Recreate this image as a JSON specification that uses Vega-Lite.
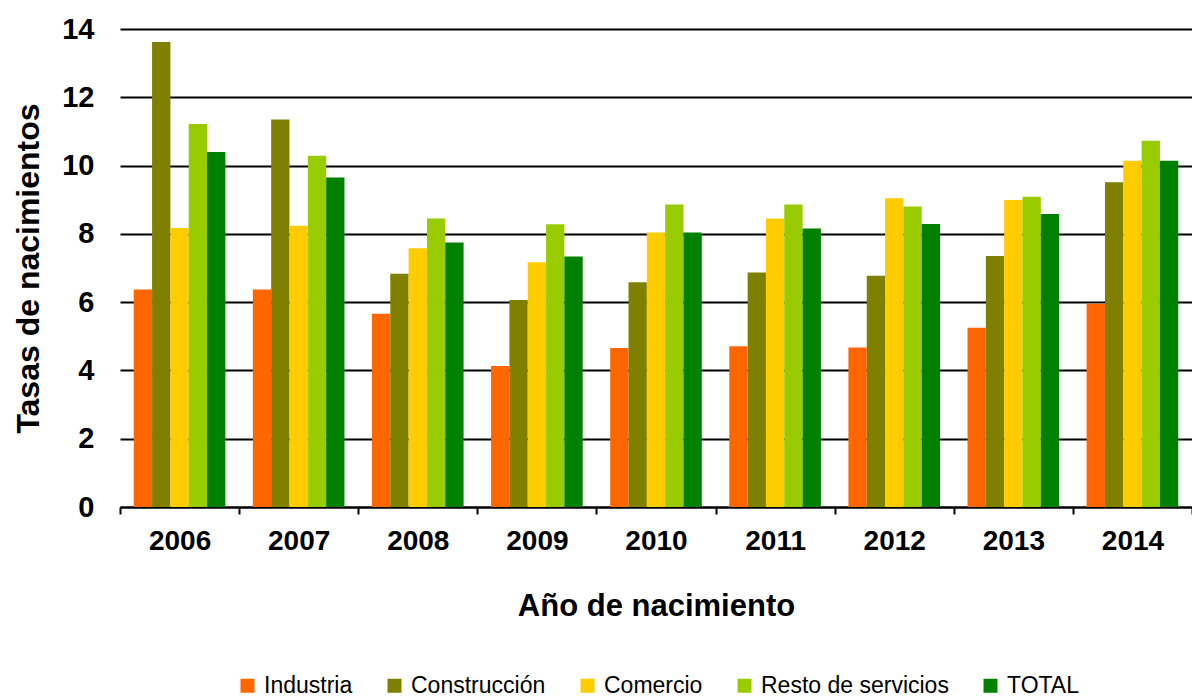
{
  "$schema": "https://vega.github.io/schema/vega-lite/v6.json",
  "width": 1072,
  "height": 478,
  "autosize": {"type": "none"},
  "padding": {"left": 120, "top": 29, "right": 0, "bottom": 191},
  "background": "white",
  "data": {
    "values": [
      {"anio": "2006", "sector": "Industria", "tasa": 6.37},
      {"anio": "2006", "sector": "Construcción", "tasa": 13.62},
      {"anio": "2006", "sector": "Comercio", "tasa": 8.17},
      {"anio": "2006", "sector": "Resto de servicios", "tasa": 11.22},
      {"anio": "2006", "sector": "TOTAL", "tasa": 10.4},
      {"anio": "2007", "sector": "Industria", "tasa": 6.37},
      {"anio": "2007", "sector": "Construcción", "tasa": 11.35},
      {"anio": "2007", "sector": "Comercio", "tasa": 8.24},
      {"anio": "2007", "sector": "Resto de servicios", "tasa": 10.29},
      {"anio": "2007", "sector": "TOTAL", "tasa": 9.65},
      {"anio": "2008", "sector": "Industria", "tasa": 5.66},
      {"anio": "2008", "sector": "Construcción", "tasa": 6.83},
      {"anio": "2008", "sector": "Comercio", "tasa": 7.58},
      {"anio": "2008", "sector": "Resto de servicios", "tasa": 8.45},
      {"anio": "2008", "sector": "TOTAL", "tasa": 7.75},
      {"anio": "2009", "sector": "Industria", "tasa": 4.13},
      {"anio": "2009", "sector": "Construcción", "tasa": 6.06},
      {"anio": "2009", "sector": "Comercio", "tasa": 7.17},
      {"anio": "2009", "sector": "Resto de servicios", "tasa": 8.28},
      {"anio": "2009", "sector": "TOTAL", "tasa": 7.34},
      {"anio": "2010", "sector": "Industria", "tasa": 4.66},
      {"anio": "2010", "sector": "Construcción", "tasa": 6.58},
      {"anio": "2010", "sector": "Comercio", "tasa": 8.04},
      {"anio": "2010", "sector": "Resto de servicios", "tasa": 8.86},
      {"anio": "2010", "sector": "TOTAL", "tasa": 8.04},
      {"anio": "2011", "sector": "Industria", "tasa": 4.71},
      {"anio": "2011", "sector": "Construcción", "tasa": 6.87},
      {"anio": "2011", "sector": "Comercio", "tasa": 8.45},
      {"anio": "2011", "sector": "Resto de servicios", "tasa": 8.86},
      {"anio": "2011", "sector": "TOTAL", "tasa": 8.16},
      {"anio": "2012", "sector": "Industria", "tasa": 4.67},
      {"anio": "2012", "sector": "Construcción", "tasa": 6.77},
      {"anio": "2012", "sector": "Comercio", "tasa": 9.04},
      {"anio": "2012", "sector": "Resto de servicios", "tasa": 8.8},
      {"anio": "2012", "sector": "TOTAL", "tasa": 8.29},
      {"anio": "2013", "sector": "Industria", "tasa": 5.25},
      {"anio": "2013", "sector": "Construcción", "tasa": 7.35},
      {"anio": "2013", "sector": "Comercio", "tasa": 8.99},
      {"anio": "2013", "sector": "Resto de servicios", "tasa": 9.09},
      {"anio": "2013", "sector": "TOTAL", "tasa": 8.58},
      {"anio": "2014", "sector": "Industria", "tasa": 5.95},
      {"anio": "2014", "sector": "Construcción", "tasa": 9.51},
      {"anio": "2014", "sector": "Comercio", "tasa": 10.14},
      {"anio": "2014", "sector": "Resto de servicios", "tasa": 10.73},
      {"anio": "2014", "sector": "TOTAL", "tasa": 10.14}
    ]
  },
  "mark": {"type": "bar"},
  "encoding": {
    "x": {
      "field": "anio",
      "type": "nominal",
      "scale": {"paddingInner": 0, "paddingOuter": 0},
      "axis": {
        "title": "Año de nacimiento",
        "labelAngle": 0,
        "labelFont": "Liberation Sans",
        "labelFontWeight": "bold",
        "labelFontSize": 28,
        "labelColor": "black",
        "labelPadding": 13,
        "domain": true,
        "domainColor": "black",
        "domainWidth": 2,
        "ticks": true,
        "tickBand": "extent",
        "tickColor": "black",
        "tickWidth": 2,
        "tickSize": 7,
        "grid": false,
        "titleFont": "Liberation Sans",
        "titleFontWeight": "bold",
        "titleFontSize": 31,
        "titleColor": "black",
        "titlePadding": 36
      }
    },
    "xOffset": {
      "field": "sector",
      "type": "nominal",
      "sort": ["Industria", "Construcción", "Comercio", "Resto de servicios", "TOTAL"],
      "scale": {"paddingInner": 0, "paddingOuter": 0.75}
    },
    "y": {
      "field": "tasa",
      "type": "quantitative",
      "scale": {"domain": [0, 14], "nice": false},
      "axis": {
        "title": "Tasas de nacimientos",
        "values": [0, 2, 4, 6, 8, 10, 12, 14],
        "labelFont": "Liberation Sans",
        "labelFontWeight": "bold",
        "labelFontSize": 29,
        "labelColor": "black",
        "labelPadding": 26,
        "domain": false,
        "ticks": false,
        "grid": true,
        "gridColor": "black",
        "gridWidth": 2,
        "gridOpacity": 1,
        "titleFont": "Liberation Sans",
        "titleFontWeight": "bold",
        "titleFontSize": 32,
        "titleColor": "black",
        "titlePadding": 16
      }
    },
    "color": {
      "field": "sector",
      "type": "nominal",
      "sort": ["Industria", "Construcción", "Comercio", "Resto de servicios", "TOTAL"],
      "scale": {
        "domain": ["Industria", "Construcción", "Comercio", "Resto de servicios", "TOTAL"],
        "range": ["#FF6600", "#808000", "#FFCC00", "#99CC00", "#008000"]
      },
      "legend": {
        "title": null,
        "orient": "none",
        "direction": "horizontal",
        "columns": 5,
        "legendX": 116,
        "legendY": 645,
        "symbolType": "square",
        "symbolSize": 196,
        "symbolStrokeWidth": 0,
        "symbolOpacity": 1,
        "labelFont": "Liberation Sans",
        "labelFontSize": 23,
        "labelLimit": 400,
        "labelColor": "black",
        "labelOffset": 5,
        "columnPadding": 30
      }
    }
  },
  "config": {
    "view": {"stroke": null},
    "font": "Liberation Sans"
  }
}
